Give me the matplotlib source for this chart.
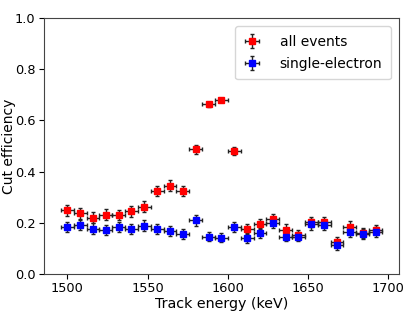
import matplotlib
matplotlib.use("Agg")
import matplotlib.pyplot as plt
import numpy as np

energy = [1500 + 8 * i for i in range(25)]
all_events = [0.249, 0.237, 0.220, 0.232, 0.230, 0.245, 0.262, 0.324, 0.345, 0.323,
              0.487, 0.662, 0.680, 0.480, 0.175, 0.196, 0.214, 0.173, 0.152, 0.202,
              0.204, 0.126, 0.185, 0.159, 0.173]
all_err = [0.021, 0.021, 0.020, 0.021, 0.021, 0.021, 0.021, 0.021, 0.020, 0.020,
           0.017, 0.008, 0.006, 0.017, 0.020, 0.020, 0.021, 0.020, 0.019, 0.020,
           0.020, 0.018, 0.020, 0.019, 0.019]
single = [0.182, 0.191, 0.177, 0.171, 0.182, 0.176, 0.189, 0.176, 0.168, 0.157,
          0.210, 0.146, 0.142, 0.184, 0.139, 0.159, 0.198, 0.146, 0.146, 0.193,
          0.190, 0.113, 0.164, 0.156, 0.165]
single_err = [0.020, 0.020, 0.020, 0.020, 0.020, 0.020, 0.020, 0.020, 0.020, 0.019,
              0.021, 0.019, 0.019, 0.020, 0.019, 0.020, 0.020, 0.019, 0.019, 0.020,
              0.020, 0.018, 0.019, 0.019, 0.019]
bin_half = 4

fig = plt.figure(figsize=(4.07, 3.13), dpi=100)
ax = fig.add_axes([0.108, 0.125, 0.872, 0.8175])

ax.errorbar(energy, all_events, xerr=bin_half, yerr=all_err, fmt='s', color='red',
            ecolor='#222222', elinewidth=1, capsize=1.5, markersize=4, label='all events')
ax.errorbar(energy, single, xerr=bin_half, yerr=single_err, fmt='s', color='blue',
            ecolor='#222222', elinewidth=1, capsize=1.5, markersize=4, label='single-electron')

ax.set_xlim(1485.5, 1706.5)
ax.set_ylim(0, 1.0)
ax.set_xticks([1500, 1550, 1600, 1650, 1700])
ax.set_yticks([0.0, 0.2, 0.4, 0.6, 0.8, 1.0])
ax.tick_params(labelsize=9.3, pad=2.5)
ax.set_xlabel('Track energy (keV)', fontsize=10.3, labelpad=1)
ax.set_ylabel('Cut efficiency', fontsize=10)
ax.yaxis.set_label_coords(-0.08, 0.5)
for s in ax.spines.values():
    s.set_color('#444444')
ax.legend(loc='upper right', fontsize=10, handlelength=1.2, handletextpad=1.4,
          borderpad=0.6, labelspacing=0.6, borderaxespad=0.6)

fig.savefig('out.png', dpi=100)
